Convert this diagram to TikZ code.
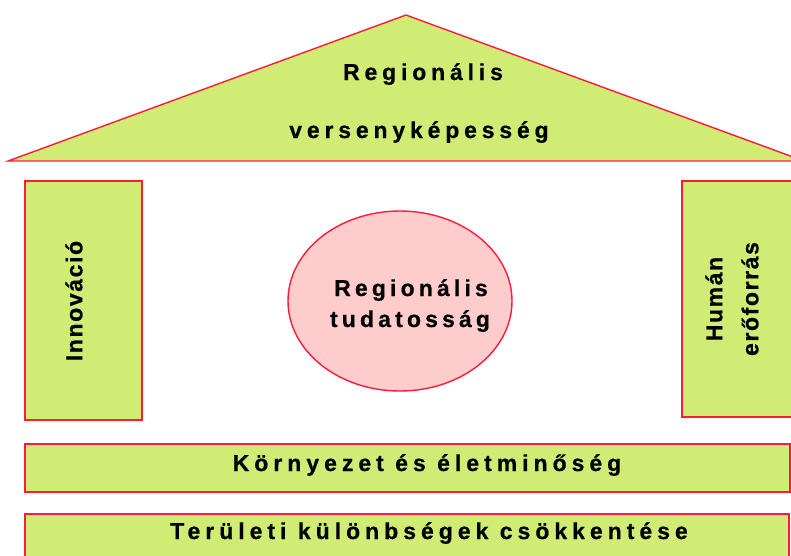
\documentclass[tikz,border=0pt]{standalone}
\usepackage{fontspec}
\setmainfont{Liberation Sans}
\newfontfamily\spaced{Liberation Sans Bold}[LetterSpace=21, FakeBold=0.6]
\newfontfamily\tightspaced{Liberation Sans Bold}[LetterSpace=18, FakeBold=0.6]
\newfontfamily\widespaced{Liberation Sans Bold}[LetterSpace=21.7, FakeBold=0.6]
\newfontfamily\semispaced{Liberation Sans Bold}[LetterSpace=7, FakeBold=0.6]
\usetikzlibrary{shapes.geometric}
\definecolor{leaf}{RGB}{208,236,116}
\definecolor{edge}{RGB}{255,26,60}
\definecolor{blush}{RGB}{255,204,204}
\tikzset{
  part/.style={draw=edge, fill=leaf, line width=1.4pt},
  lbl/.style={inner sep=0pt, anchor=base, font=\spaced\fontsize{23}{27}\selectfont},
  clbl/.style={lbl, font=\tightspaced\fontsize{23}{27}\selectfont},
  blbl/.style={lbl, font=\widespaced\fontsize{23}{27}\selectfont},
  vlbl/.style={inner sep=0pt, rotate=90, font=\semispaced\fontsize{23}{27}\selectfont}
}
\begin{document}
\begin{tikzpicture}[x=1pt,y=-1pt]
\useasboundingbox (0,0) rectangle (791,555);
\clip (0,0) rectangle (791,555);
\draw[part] (8,161) coordinate (rl) -- (406,15) coordinate (rt) -- (804,161) coordinate (rr) -- cycle;
\draw[part] (25,181) rectangle (142,420);
\draw[part] (682,181) rectangle (800,417);
\draw[part] (25,444) rectangle (790,492);
\draw[part] (25,514) rectangle (789,570);
\node[ellipse, draw=edge, fill=blush, line width=1.4pt, minimum width=224pt, minimum height=180pt, inner sep=0pt] (core) at (400,301) {};
\node[lbl] (t1) at (423,80) {Regionális};
\node[lbl] (t2) at (419,138) {versenyképesség};
\node[clbl] (c1) at (411,296) {Regionális};
\node[clbl] (c2) at (410,327) {tudatosság};
\node[vlbl] (inno) at (74,301) {Innováció};
\node[vlbl, align=center, font=\semispaced\fontsize{23}{36}\selectfont] (hum) at (732,299) {Humán\\erőforrás};
\node[blbl] (env) at (427,471) {Környezet és életminőség};
\node[blbl] (reg) at (429,539) {Területi különbségek csökkentése};
\end{tikzpicture}
\end{document}
